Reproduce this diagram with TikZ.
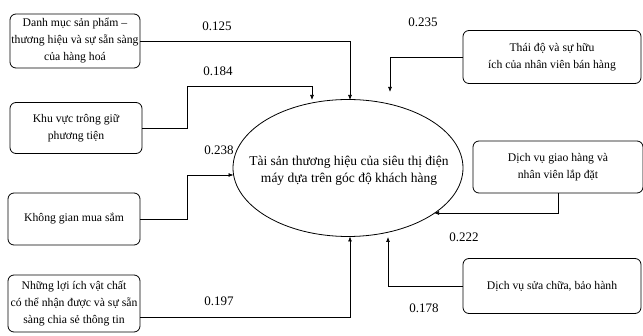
\documentclass[tikz,border=0pt]{standalone}
\usepackage{fontspec}
\setmainfont{Liberation Serif}
\usetikzlibrary{arrows.meta,shapes.geometric}
\begin{document}
\begin{tikzpicture}[x=1pt,y=-1pt,
  box/.style={draw,rounded corners=6pt,line width=0.8pt,align=center,font=\fontsize{11.7}{17}\selectfont,inner sep=0.5pt},
  arr/.style={draw,line width=0.7pt,-{Latex[length=5pt,width=4pt]}},
  num/.style={font=\fontsize{13}{15}\selectfont}]
\useasboundingbox (0,0) rectangle (643,336);
% ellipse
\node[draw,ellipse,line width=0.8pt,minimum width=230pt,minimum height=137pt,inner sep=0pt] (ell) at (348,168) {};
\node[align=center,font=\fontsize{13.5}{17}\selectfont,inner sep=0pt] (etxt) at (349,171)
  {Tài sản thương hiệu của siêu thị điện\\máy dựa trên góc độ khách hàng};
% left boxes
\node[box,minimum width=130pt,minimum height=54pt] (b1) at (75,41) {Danh mục sản phẩm –\\thương hiệu và sự sẵn sàng\\của hàng hoá};
\node[box,minimum width=132pt,minimum height=51pt] (b2) at (76,128) {Khu vực trông giữ\\phương tiện};
\node[box,minimum width=132pt,minimum height=52pt] (b3) at (74,219) {Không gian mua sắm};
\node[box,minimum width=132pt,minimum height=57pt] (b4) at (74,303.5) {Những lợi ích vật chất\\có thể nhận được và sự sẵn\\sàng chia sẻ thông tin};
% right boxes
\node[box,minimum width=178pt,minimum height=53pt] (b5) at (552,57) {Thái độ và sự hữu\\ích của nhân viên bán hàng};
\node[box,minimum width=170pt,minimum height=52pt] (b6) at (558,167) {Dịch vụ giao hàng và\\nhân viên lắp đặt};
\node[box,minimum width=178pt,minimum height=55pt] (b7) at (552,286) {Dịch vụ sửa chữa, bảo hành};
% coordinates
\coordinate (e1) at (350,100);
\coordinate (c2) at (187,86);
\coordinate (e2) at (312,100);
\coordinate (c3) at (187,175);
\coordinate (e3) at (233.5,175);
\coordinate (e4) at (350,236.5);
\coordinate (e5) at (390,92);
\coordinate (e6) at (434,213);
\coordinate (e7) at (388,237);
% connectors
\draw[arr] (b1.east) -| (e1);
\draw[arr] (b2.east) -| (c2) -| (e2);
\draw[arr] (b3.east) -| (c3) -- (e3);
\draw[arr] ([yshift=-14pt]b4.east) -| (e4);
\draw[arr] (b5.west) -| (e5);
\draw[arr] (b6.south) |- (e6);
\draw[arr] (b7.west) -| (e7);
% labels
\node[num] (l1) at (217,26) {0.125};
\node[num] (l2) at (218,71) {0.184};
\node[num] (l3) at (219,150) {0.238};
\node[num] (l4) at (219,301) {0.197};
\node[num] (l5) at (423,22) {0.235};
\node[num] (l6) at (464,237) {0.222};
\node[num] (l7) at (424,308) {0.178};
\end{tikzpicture}
\end{document}
